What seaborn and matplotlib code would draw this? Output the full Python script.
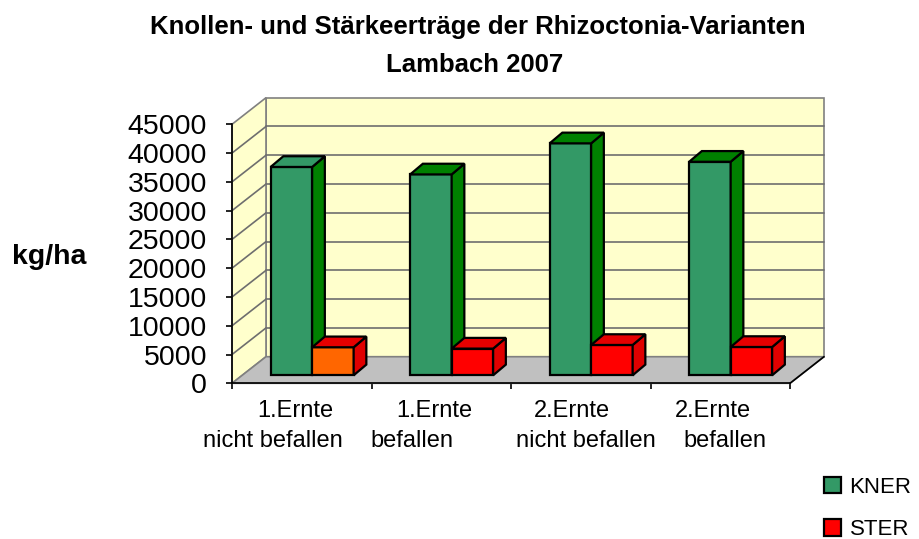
import matplotlib
matplotlib.use('Agg')
from matplotlib import pyplot as plt
from matplotlib.patches import Polygon
import matplotlib.transforms as mtransforms
import seaborn as sns
import pandas as pd

sns.set_theme(style='white')
plt.rcParams['font.family'] = ['Liberation Sans', 'DejaVu Sans']
plt.rcParams['text.color'] = 'black'
plt.rcParams['xtick.color'] = 'black'
plt.rcParams['ytick.color'] = 'black'
plt.rcParams['axes.labelcolor'] = 'black'

# data
categories = ['1.Ernte nicht befallen', '1.Ernte befallen',
              '2.Ernte nicht befallen', '2.Ernte befallen']
label_top = ['1.Ernte', '1.Ernte', '2.Ernte', '2.Ernte']
label_bottom = ['nicht befallen', 'befallen', 'nicht befallen', 'befallen']
series = ['KNER', 'STER']
kner = [36200, 34900, 40300, 37100]
ster = [4870, 4640, 5270, 4920]
yticks = list(range(0, 45001, 5000))

df = pd.DataFrame({
    'Variante': categories * 2,
    'Serie': ['KNER'] * 4 + ['STER'] * 4,
    'kg/ha': kner + ster,
})

W, H = 919, 539
fig = plt.figure(figsize=(W / 100, H / 100), dpi=100)
# front plane of the pseudo 3d box, in pixels
x0, x1 = 232, 790
y0, y1 = 383.3, 124.3
ax = fig.add_axes([x0 / W, 1 - y0 / H, (x1 - x0) / W, (y0 - y1) / H])
ax.set_facecolor('none')

front = {'KNER': '#339966', 'STER': '#FF0000'}
sns.barplot(data=df, x='Variante', y='kg/ha', hue='Serie', palette=front,
            width=0.595, dodge=True, edgecolor='black', linewidth=1.6,
            saturation=1, ax=ax, zorder=3)

ax.set_xlim(-0.5, 3.5)
ax.set_ylim(0, 45000)
px_cat = (x1 - x0) / 4.0
px_val = (y0 - y1) / 45000.0

# depth of the box (front axis -> back wall)
Dx = 34 / px_cat
Dy = 26.6 / px_val
wall = '#FFFFCC'
grid_c = '#6E6E6E'
kw = dict(clip_on=False)
ax.add_patch(Polygon([(-0.5 + Dx, Dy), (3.5 + Dx, Dy), (3.5 + Dx, 45000 + Dy),
                      (-0.5 + Dx, 45000 + Dy)], fc=wall, ec='#808080', lw=1.2, zorder=0.5, **kw))
ax.add_patch(Polygon([(-0.5, 0), (-0.5 + Dx, Dy), (-0.5 + Dx, 45000 + Dy), (-0.5, 45000)],
                     fc=wall, ec='#808080', lw=1.2, zorder=0.5, **kw))
ax.add_patch(Polygon([(-0.5, 0), (3.5, 0), (3.5 + Dx, Dy), (-0.5 + Dx, Dy)],
                     fc='#C0C0C0', ec='#808080', lw=1.2, zorder=0.6, **kw))
for t in yticks[1:-1]:
    ax.plot([-0.5 + Dx, 3.5 + Dx], [t + Dy, t + Dy], color=grid_c, lw=1.2, zorder=0.7, **kw)
    ax.plot([-0.5, -0.5 + Dx], [t, t + Dy], color=grid_c, lw=1.2, zorder=0.7, **kw)
ax.plot([3.5, 3.5 + Dx], [0, Dy], color='black', lw=1.2, zorder=0.8, **kw)

# bars sit a bit behind the front plane
shift = mtransforms.ScaledTranslation(10.4 / 100, 8 / 100, fig.dpi_scale_trans)
tr = ax.transData + shift
ddx = 12.7 / px_cat
ddy = 10.7 / px_val
side = {'KNER': '#008000', 'STER': '#E00000'}
top = {'KNER': '#008000', 'STER': '#E60000'}
for k, (name, cont) in enumerate(zip(series, ax.containers)):
    for i, bar in enumerate(cont):
        z = 3 + 2 * k
        bar.set_transform(tr)
        bar.set_zorder(z)
        bx, bw, bh = bar.get_x(), bar.get_width(), bar.get_height()
        ax.add_patch(Polygon([(bx + bw, 0), (bx + bw + ddx, ddy), (bx + bw + ddx, bh + ddy),
                              (bx + bw, bh)], fc=side[name], ec='black', lw=1.6,
                             transform=tr, zorder=z, **kw))
        tc = front[name] if (name == 'KNER' and i == 0) else top[name]
        ax.add_patch(Polygon([(bx, bh), (bx + bw, bh), (bx + bw + ddx, bh + ddy),
                              (bx + ddx, bh + ddy)], fc=tc, ec='black', lw=1.6,
                             transform=tr, zorder=z, **kw))
ax.containers[1][0].set_facecolor('#FF6600')

# axes, ticks
for s in ['top', 'right']:
    ax.spines[s].set_visible(False)
for s in ['left', 'bottom']:
    ax.spines[s].set_color('black')
    ax.spines[s].set_linewidth(1.2)
    ax.spines[s].set_zorder(1)
ax.set_yticks(yticks)
ax.set_yticklabels([str(t) for t in yticks], fontsize=20.5)
ax.set_xticks([-0.5, 0.5, 1.5, 2.5, 3.5])
ax.set_xticklabels([])
ax.tick_params(axis='both', direction='out', length=4.5, width=1.2, color='black')
ax.tick_params(axis='y', pad=13.5, left=True)
ax.tick_params(axis='x', bottom=True)
ax.set_xlabel('')
ax.set_ylabel('')

# two-line category labels as in the original layout
top_dx = [-6.5, -7.3, -9.0, -7.8]
bot_dx = [-28.5, -29.5, 5.0, 4.3]
btr = mtransforms.blended_transform_factory(ax.transData, fig.transFigure)
for i in range(4):
    ax.text(i + top_dx[i] / px_cat, 1 - 411 / H, label_top[i], transform=btr,
            ha='center', va='center', fontsize=17, color='black', clip_on=False)
    ax.text(i + bot_dx[i] / px_cat, 1 - 441 / H, label_bottom[i], transform=btr,
            ha='center', va='center', fontsize=17, color='black', clip_on=False)

fig.text(478 / W, 1 - 27 / H, 'Knollen- und Stärkeerträge der Rhizoctonia-Varianten',
         ha='center', va='center', fontsize=18.5, fontweight='bold')
fig.text(475 / W, 1 - 65 / H, 'Lambach 2007', ha='center', va='center',
         fontsize=18.5, fontweight='bold')
fig.text(49.5 / W, 1 - 257 / H, 'kg/ha', ha='center', va='center',
         fontsize=20.5, fontweight='bold')

sns.move_legend(ax, 'upper left', bbox_to_anchor=(824 / W, 1 - 477 / H),
                bbox_transform=fig.transFigure, title=None, frameon=False,
                fontsize=16, handlelength=0.75, handleheight=0.75,
                handletextpad=0.4, labelspacing=0.95, borderpad=0, borderaxespad=0)

fig.savefig('out.png', dpi=100)
